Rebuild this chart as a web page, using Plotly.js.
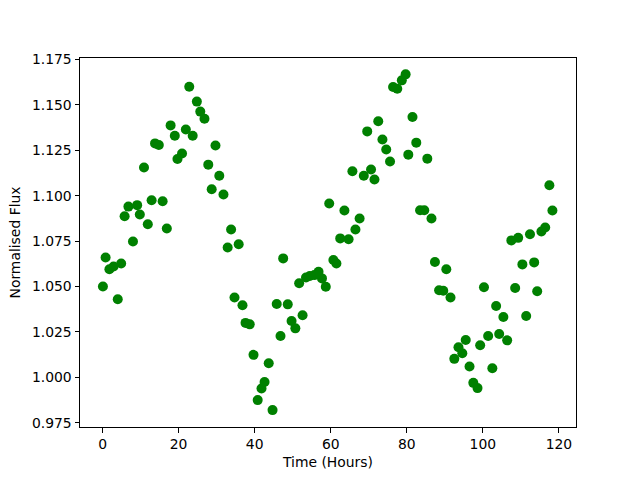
<!DOCTYPE html>
<html>
<head>
<meta charset="utf-8">
<script src="https://cdn.plot.ly/plotly-3.0.1.min.js"></script>
<style>html,body{margin:0;padding:0;background:#fff;}#chart{width:640px;height:480px;}</style>
</head>
<body>
<div id="chart"></div>
<script>
const timeHours = [0.1,0.8,1.8,2.9,4.0,4.9,5.8,6.8,8.0,9.1,9.8,10.9,11.9,12.9,13.8,14.8,15.8,16.9,17.9,19.0,
  19.7,20.9,21.9,22.8,23.7,24.8,25.7,26.8,27.8,28.7,29.7,30.7,31.8,32.9,33.8,34.7,35.8,36.8,37.6,38.7,
  39.7,40.8,41.8,42.6,43.7,44.7,45.8,46.8,47.5,48.7,49.7,50.7,51.7,52.6,53.5,54.5,55.7,56.8,57.7,58.7,
  59.6,60.7,61.5,62.5,63.6,64.7,65.7,66.5,67.6,68.7,69.6,70.6,71.5,72.5,73.6,74.6,75.6,76.4,77.5,78.7,
  79.7,80.4,81.5,82.5,83.5,84.6,85.4,86.5,87.4,88.5,89.6,90.4,91.5,92.5,93.6,94.6,95.5,96.5,97.5,98.6,
  99.3,100.3,101.4,102.5,103.5,104.3,105.4,106.4,107.5,108.5,109.3,110.4,111.4,112.4,113.5,114.3,115.4,116.4,117.5,118.3];
const normFlux = [1.050,1.066,1.0595,1.061,1.043,1.0627,1.0887,1.094,1.0748,1.0948,1.0897,1.1155,1.0843,1.0975,1.1288,1.1279,1.097,1.082,1.1387,1.133,
  1.1202,1.1232,1.1364,1.160,1.133,1.1518,1.1463,1.1424,1.1171,1.1036,1.1276,1.111,1.1007,1.0715,1.0814,1.044,1.0733,1.0397,1.030,1.0292,
  1.0124,0.9875,0.9939,0.9975,1.0078,0.982,1.0404,1.0228,1.0655,1.0402,1.031,1.027,1.0518,1.0342,1.055,1.0558,1.0563,1.0581,1.0545,1.0499,
  1.0957,1.0646,1.0627,1.0765,1.0919,1.076,1.1135,1.0814,1.0875,1.111,1.1354,1.1144,1.1089,1.141,1.1309,1.1254,1.1188,1.1598,1.1589,1.1635,
  1.1668,1.1226,1.1433,1.1292,1.092,1.092,1.1204,1.0875,1.0635,1.048,1.0477,1.0595,1.044,1.0102,1.0166,1.0133,1.0206,1.006,0.997,0.9941,
  1.0177,1.0496,1.0228,1.005,1.0393,1.0239,1.0332,1.0204,1.0754,1.0492,1.0768,1.0622,1.0338,1.0788,1.0633,1.0474,1.0803,1.0825,1.1058,1.0919];
const xTicks = [0,20,40,60,80,100,120];
const yTicks = [0.975,1.000,1.025,1.050,1.075,1.100,1.125,1.150,1.175];

const font = {family: 'DejaVu Sans', size: 13.9, color: '#000'};
const trace = {
  x: timeHours, y: normFlux, type: 'scatter', mode: 'markers',
  marker: {color: 'green', size: 10, line: {width: 0}},
  hoverinfo: 'skip'
};
const axisCommon = {
  showgrid: false, zeroline: false, showline: true, mirror: true,
  linecolor: '#000', linewidth: 1, ticks: 'outside', ticklen: 4.5, tickwidth: 1,
  tickcolor: '#000', tickfont: font, automargin: false
};
const layout = {
  width: 640, height: 480,
  margin: {l: 80, r: 64, t: 58, b: 53, pad: 0},
  paper_bgcolor: '#fff', plot_bgcolor: '#fff',
  font: font, showlegend: false,
  xaxis: Object.assign({}, axisCommon, {
    range: [-5.93, 124.5], tickmode: 'array', tickvals: xTicks,
    ticktext: xTicks.map(String),
    title: {text: 'Time (Hours)', font: font, standoff: 6}
  }),
  yaxis: Object.assign({}, axisCommon, {
    range: [0.9727, 1.1758], tickmode: 'array', tickvals: yTicks,
    ticktext: yTicks.map(v => v.toFixed(3)),
    title: {text: 'Normalised Flux', font: font, standoff: 8}
  })
};
Plotly.newPlot('chart', [trace], layout, {displayModeBar: false, staticPlot: true});
</script>
</body>
</html>
